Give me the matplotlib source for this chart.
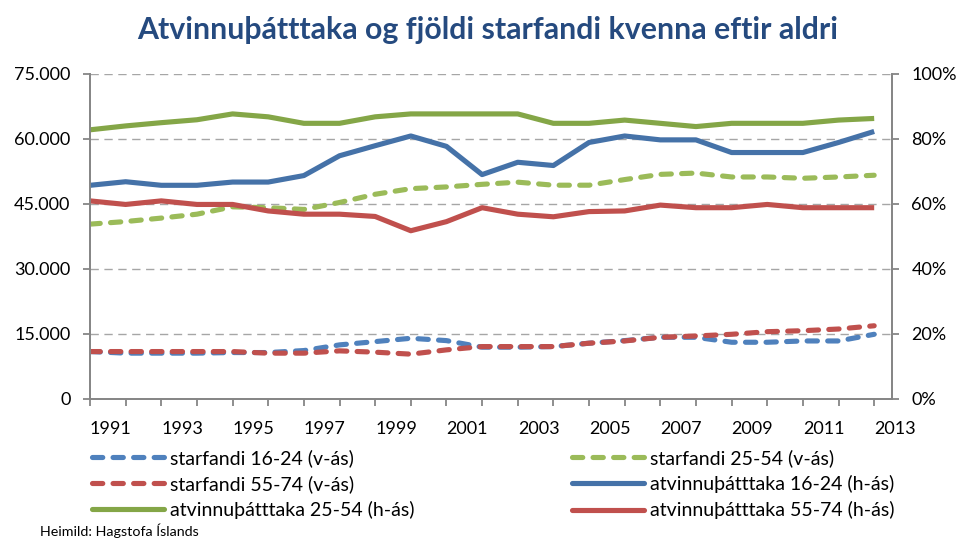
import numpy as np
import matplotlib
matplotlib.use('Agg')
import matplotlib.pyplot as plt
from matplotlib.ticker import FuncFormatter, MultipleLocator
from matplotlib.lines import Line2D

plt.rcParams['font.family'] = ['Lato', 'DejaVu Sans']

# data, 1991-2013
years = list(range(1991, 2014))
starf_16_24 = [10850, 10480, 10480, 10480, 10620, 10620, 11080, 12390, 13150, 13920, 13380, 11860,
               11860, 12000, 12780, 13380, 14150, 14150, 13000, 13000, 13300, 13300, 14840]
starf_25_54 = [40300, 40900, 41700, 42600, 44300, 44100, 43700, 45300, 47200, 48500, 48900, 49500,
               50000, 49300, 49300, 50600, 51800, 52100, 51200, 51200, 50900, 51200, 51600]
starf_55_74 = [10850, 10850, 10850, 10850, 10850, 10480, 10480, 11010, 10710, 10250, 11240, 12000,
               12000, 12000, 12780, 13300, 14150, 14450, 14840, 15440, 15670, 16060, 16810]
atv_16_24 = [65.7, 66.8, 65.7, 65.7, 66.7, 66.7, 68.7, 74.8, 77.9, 80.9, 77.7, 69.0,
             72.8, 71.8, 78.9, 80.9, 79.7, 79.7, 75.8, 75.8, 75.8, 78.9, 82.3]
atv_25_54 = [82.8, 84.0, 85.0, 85.9, 87.7, 86.8, 84.8, 84.8, 86.8, 87.7, 87.7, 87.7,
             87.7, 84.8, 84.8, 85.8, 84.8, 83.8, 84.8, 84.8, 84.8, 85.8, 86.3]
atv_55_74 = [60.9, 59.8, 60.9, 59.8, 59.8, 57.8, 56.8, 56.8, 56.1, 51.7, 54.5, 58.8,
             56.8, 56.0, 57.6, 57.8, 59.6, 58.8, 58.8, 59.8, 58.8, 58.8, 58.8]

labels = ['starfandi 16-24 (v-ás)', 'starfandi 25-54 (v-ás)', 'starfandi 55-74 (v-ás)',
          'atvinnuþátttaka 16-24 (h-ás)', 'atvinnuþátttaka 25-54 (h-ás)', 'atvinnuþátttaka 55-74 (h-ás)']

blue_d, green_d, red_d = '#4F81BD', '#9BBB59', '#C0504D'
blue_s, green_s, red_s = '#4572A8', '#84A647', '#C0504D'
grid_c = '#A6A6A6'
axis_c = '#868686'
lw = 3.7
dash = (0, (2, 2))

fig = plt.figure(figsize=(9.62, 5.39), dpi=100)
ax = fig.add_axes([90 / 962, 1 - 398.5 / 539, (892 - 90) / 962, (398.5 - 74) / 539])
ax2 = ax.twinx()

ax.set_xlim(1991, 2013.5)
ax.set_ylim(0, 75000)
ax2.set_ylim(0, 100)

for yv in np.arange(15000, 75001, 15000):
    ax.axhline(yv, color=grid_c, lw=1.0, ls=(0, (6, 4)), zorder=0)

kw = dict(lw=lw, ls=dash, dash_capstyle='round', solid_capstyle='round')
h1, = ax.plot(years, starf_16_24, color=blue_d, **kw)
h2, = ax.plot(years, starf_25_54, color=green_d, **kw)
h3, = ax.plot(years, starf_55_74, color=red_d, **kw)
kw2 = dict(lw=lw, solid_capstyle='butt', solid_joinstyle='round')
h4, = ax2.plot(years, atv_16_24, color=blue_s, **kw2)
h5, = ax2.plot(years, atv_25_54, color=green_s, **kw2)
h6, = ax2.plot(years, atv_55_74, color=red_s, **kw2)

# spines
for a in (ax, ax2):
    a.spines['top'].set_visible(False)
    for s in ('left', 'right', 'bottom'):
        a.spines[s].set_color(axis_c)
        a.spines[s].set_linewidth(1.3)

ax.yaxis.set_major_locator(MultipleLocator(15000))
ax.yaxis.set_major_formatter(FuncFormatter(lambda v, p: f"{int(v):,}".replace(',', '.')))
ax2.yaxis.set_major_locator(MultipleLocator(20))
ax2.yaxis.set_major_formatter(FuncFormatter(lambda v, p: f"{int(v)}%"))

ax.set_xticks(years)
ax.set_xticklabels([str(y) if (y - 1991) % 2 == 0 else '' for y in years])
for t in ax.get_xticklabels():
    t.set_ha('left')

ax.tick_params(axis='x', length=5, width=1.3, color=axis_c, labelsize=13, pad=11, labelcolor='black')
ax.tick_params(axis='y', length=5, width=1.3, color=axis_c, labelsize=13, pad=9, labelcolor='black')
ax2.tick_params(axis='y', length=5, width=1.3, color=axis_c, labelsize=13, pad=9, labelcolor='black')

fig.text(488 / 962, 1 - 30 / 539, 'Atvinnuþátttaka og fjöldi starfandi kvenna eftir aldri',
         ha='center', va='center', fontsize=21.8, fontweight='bold', color='#254A7F')

# legends, two columns placed separately
def mk(color, dashed):
    if dashed:
        return Line2D([], [], color=color, lw=lw, ls=dash, dash_capstyle='round')
    return Line2D([], [], color=color, lw=lw, solid_capstyle='round')

leg_kw = dict(frameon=False, fontsize=14, handlelength=3.7, handletextpad=0.3,
              labelspacing=0.42, borderpad=0, borderaxespad=0, loc='upper left')
l1 = fig.legend([mk(blue_d, True), mk(red_d, True), mk(green_s, False)],
                [labels[0], labels[2], labels[4]],
                bbox_to_anchor=(92 / 962, 1 - 449 / 539), **leg_kw)
l2 = fig.legend([mk(green_d, True), mk(blue_s, False), mk(red_s, False)],
                [labels[1], labels[3], labels[5]],
                bbox_to_anchor=(572 / 962, 1 - 449 / 539), **leg_kw)

fig.text(40 / 962, 1 - 531 / 539, 'Heimild: Hagstofa Íslands', ha='left', va='center', fontsize=10.3)

fig.savefig('out.png', dpi=100)
